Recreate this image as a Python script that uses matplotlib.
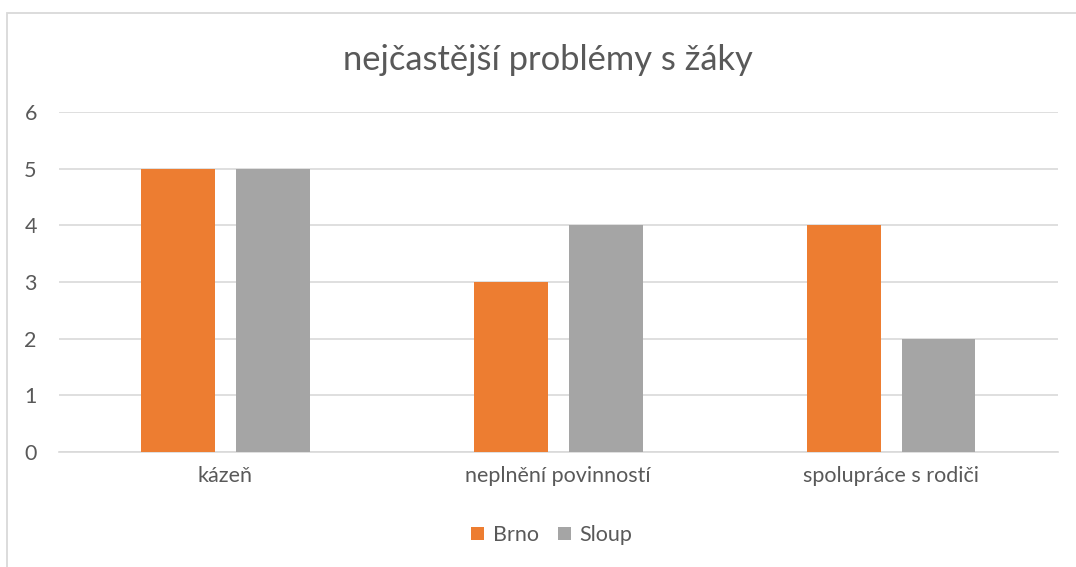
import matplotlib
matplotlib.use("Agg")
import matplotlib.pyplot as plt
import numpy as np
from matplotlib.patches import Rectangle

categories = ["kázeň", "neplnění povinností", "spolupráce s rodiči"]
brno = [5, 3, 4]
sloup = [5, 4, 2]
series_names = ["Brno", "Sloup"]
yticks = [0, 1, 2, 3, 4, 5, 6]
title = "nejčastější problémy s žáky"

plt.rcParams['font.family'] = ['Lato', 'DejaVu Sans']
W, H = 1076, 567
fig = plt.figure(figsize=(W/100, H/100), dpi=100)

# chart border (cropped at right and bottom)
fig.add_artist(Rectangle((7/W, -0.1), 1.2, (567-13)/H + 0.1, transform=fig.transFigure,
                         fill=False, edgecolor="#D9D9D9", linewidth=1.3))

ax = fig.add_axes([59/W, (567-452)/H, (1057.5-59)/W, (452-112)/H])
x = np.arange(len(categories))
bw = 0.222
off = 0.1426
ax.bar(x - off, brno, bw, color="#ED7D31", label=series_names[0], zorder=3)
ax.bar(x + off, sloup, bw, color="#A5A5A5", label=series_names[1], zorder=3)

ax.set_xlim(-0.5, len(categories) - 0.5)
ax.set_ylim(0, 6)
ax.set_yticks(yticks)
ax.yaxis.grid(True, color="#D9D9D9", linewidth=1.2, zorder=0)
ax.set_axisbelow(True)
for s in ["top", "right", "left"]:
    ax.spines[s].set_visible(False)
ax.spines["bottom"].set_color("#D9D9D9")
ax.spines["bottom"].set_linewidth(1.2)
ax.tick_params(axis="both", length=0, labelsize=15.5, labelcolor="#595959")
ax.tick_params(axis="y", pad=16)
ax.tick_params(axis="x", pad=10)
ax.set_xticks(x)
ax.set_xticklabels(categories)

fig.text(548/W, 1 - 60/H, title, ha="center", va="center", fontsize=24.8, color="#595959")

leg = fig.legend(loc="center", bbox_to_anchor=(552/W, 1 - 535/H), ncol=2, frameon=False,
                 fontsize=15.5, handlelength=0.6, handleheight=0.6, handletextpad=0.4,
                 columnspacing=0.9, labelcolor="#595959")

fig.savefig("out.png", dpi=100)
